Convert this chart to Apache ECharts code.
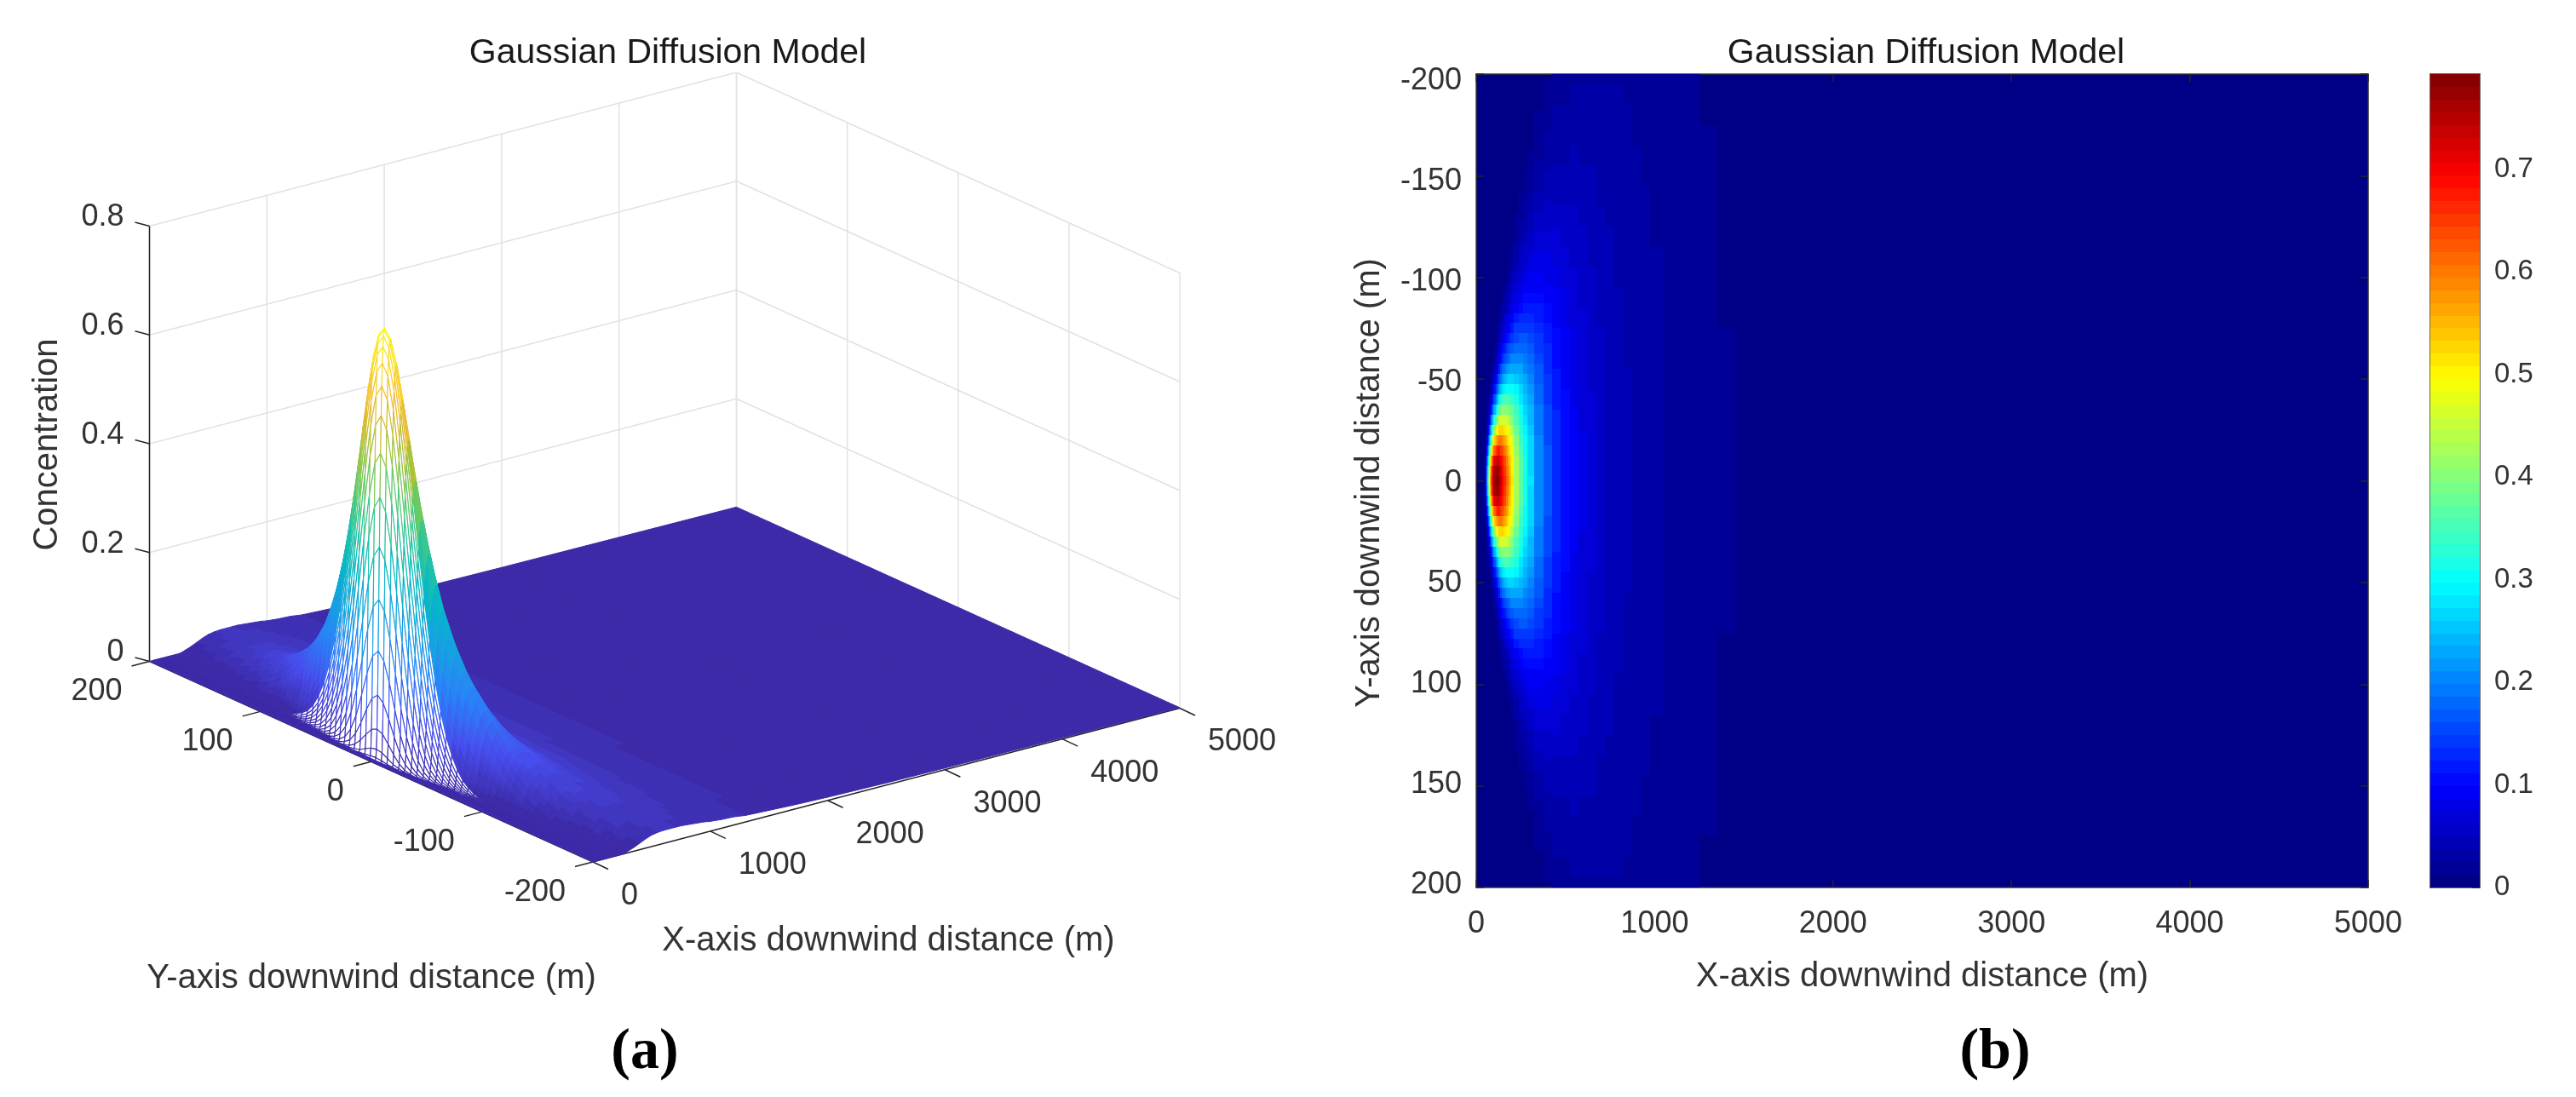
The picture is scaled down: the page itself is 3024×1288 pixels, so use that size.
<!DOCTYPE html>
<html><head><meta charset="utf-8">
<style>html,body{margin:0;padding:0;background:#fff}#c{width:3024px;height:1288px}</style>
<script src="https://cdn.jsdelivr.net/npm/echarts@6/dist/echarts.min.js"></script>
</head><body><div id="c"></div>
<script>
// Values, as concentration x 1000.
// Each profile lists one half of the plume (|y| = 0, step, 2*step ...); the picture is symmetric about y = 0.
const profileX = [0,35,40,45,50,55,60,65,70,75,80,85,90,95,100,105,110,115,120,130,140,150,160,170,180,190,200,225,250,275,300,350,400,450,500,550,600,650,700,750,800,850,900,950,1000,1100,1200,1300,1400,1500,1700,2000,2500,3000,4000,5000];
const fineStep = 5, coarseStep = 10, coarseFromX = 450;
const profiles = [
[0],[0],
[5,4,2,1],
[20,18,12,6,3,1],
[57,52,38,23,11,4,1],
[119,109,84,55,30,14,6,2],
[200,186,150,105,63,33,15,6,2,1],
[294,277,230,170,111,64,33,15,6,2,1],
[390,370,316,243,168,104,58,29,13,6,2,1],
[481,459,400,318,231,152,92,51,26,12,5,2,1],
[562,540,478,391,295,205,132,78,43,21,10,4,2,1],
[631,609,547,457,356,258,174,109,64,35,18,8,4,2,1],
[685,664,603,514,411,309,217,144,89,52,28,14,7,3,1],
[727,707,648,562,460,356,260,179,116,72,42,23,12,6,3,1],
[757,738,683,600,500,397,299,213,145,93,57,33,18,10,5,2,1],
[776,758,707,629,533,432,334,246,173,116,75,46,27,15,8,4,2,1],
[787,770,722,649,560,462,365,276,201,140,93,59,36,21,12,6,3,2,1],
[790,775,731,663,578,485,391,303,226,163,112,74,47,29,17,10,5,3,1],
[787,773,733,670,591,503,412,327,250,184,131,90,60,38,23,14,8,4,2,1],
[769,757,724,670,602,524,444,364,289,223,167,121,85,58,38,25,15,9,5,3,2,1],
[738,728,700,655,598,531,459,387,317,254,198,150,111,80,56,38,25,16,10,6,4,2,1],
[701,693,669,632,583,526,463,400,336,277,222,175,135,101,74,53,37,25,17,11,7,4,3,2,1],
[662,655,635,604,563,514,460,404,347,292,241,195,155,120,92,68,50,36,25,17,12,8,5,3,2,1],
[622,616,600,574,539,497,451,401,351,302,254,211,172,137,108,83,63,47,34,25,17,12,8,6,4,2,1],
[583,578,565,543,513,478,438,395,350,306,263,222,185,152,122,97,76,58,44,33,24,17,12,9,6,4,3,2,1],
[545,542,530,512,486,456,421,384,345,305,267,230,195,163,134,109,87,69,54,41,31,23,17,12,9,6,4,3,2,1],
[510,507,497,481,460,434,404,372,337,302,267,234,201,171,144,119,97,79,63,50,39,30,22,17,12,9,6,5,3,2,2,1],
[432,430,423,413,398,380,359,337,312,286,259,233,207,182,159,137,117,99,83,69,56,46,37,29,23,18,14,10,8,6,4,3,2,2,1],
[368,366,362,355,344,332,317,301,283,263,243,223,203,183,164,145,128,111,96,83,70,59,50,41,34,28,23,18,14,11,9,7,5,4,3,2,2,1],
[315,314,311,306,298,289,278,266,253,239,224,208,192,177,161,146,131,117,104,92,80,70,60,52,44,37,31,26,22,18,15,12,10,8,6,5,4,3,2,2,1],
[273,272,270,266,261,254,246,237,227,216,205,193,180,168,156,143,131,119,108,97,87,77,68,60,52,45,39,34,29,24,21,17,14,12,10,8,7,5,4,3,3],
[208,208,206,204,201,197,193,188,182,175,168,161,153,146,137,129,121,113,105,97,89,82,75,68,62,56,50,45,40,35,31,27,24,21,18,16,14,12,10,8,7],
[163,163,162,161,159,157,154,151,147,143,139,134,129,124,119,113,108,102,97,91,86,80,75,70,65,60,55,50,46,42,38,35,31,28,25,23,20,18,16,14,12],
[131,131,128,125,121,115,109,102,94,87,79,71,63,55,48,42,36,30,25,21,17],
[108,107,106,104,101,97,93,88,83,77,71,65,59,54,48,43,37,33,28,24,21],
[90,90,89,87,85,83,80,76,72,68,64,59,55,50,46,42,38,34,30,26,23],
[76,76,75,74,73,71,69,66,63,60,57,54,50,47,43,40,36,33,30,27,24],
[65,65,64,64,63,61,60,58,56,53,51,48,46,43,40,38,35,32,29,27,24],
[56,56,56,55,54,53,52,51,49,47,45,43,41,39,37,35,33,30,28,26,24],
[49,49,49,48,48,47,46,45,44,42,41,39,38,36,34,32,31,29,27,25,24],
[44,44,44,43,43,42,41,41,40,39,37,36,35,33,32,31,29,28,26,25,23],
[39,39,39,38,38,38,37,36,36,35,34,33,32,31,29,28,27,26,25,23,22],
[35,34,34,34,34,33,33,32,32,31,30,30,29,28,27,26,25,24,23,22,21],
[31,31,31,31,30,30,30,29,29,28,28,27,26,25,25,24,23,22,21,20,20],
[28,28,28,28,28,27,27,27,26,26,25,25,24,23,23,22,21,20,19,19,18],
[23,23,23,23,23,23,22,22,22,21,21,20,20,19,19,18,18,17,17,16,16],
[20,20,19,19,19,19,19,19,18,18,18,17,17,17,16,16,16,15,15,15,15],
[16,16,16,16,16,15,15,15,15,15,14,14,14,14,13,13,13,13,12,12,12],
[14,14,14,14,13,13,13,13,12,12,12,12,12,12,12,12,12,12,11,11,11],
[12,12,12,12,12,12,12,12,12,12,12,12,12,11,11,11,11,11,11,11,10],
[10,10,10,10,10,10,10,10,9,9,9,9,9,9,9,9,9,8,8,8,8],
[7,7,7,7,7,7,7,7,7,7,7,7,6,6,6,6,6,6,6,6,6],
[5,5,5,5,5,4,4,4,4,4,4,4,4,4,4,4,4,4,4,4,4],
[3,3,3,3,3,3,3,3,3,3,3,3,3,3,3,3,3,3,3,3,3],
[2,2,2,2,2,2,2,2,2,2,2,2,2,2,2,2,2,2,2,2,2],
[1,1,1,1,1,1,1,1,1,1,1,1,1,1,1,1,1,1,1,1,1]
];
const xTicks = [0,1000,2000,3000,4000,5000];
const yTicks3d = [200,100,0,-100,-200];
const zTicks = [0,0.2,0.4,0.6,0.8];
const colorMax = 0.7925;
const titleText = 'Gaussian Diffusion Model';
const xName = 'X-axis downwind distance (m)';
const yName = 'Y-axis downwind distance (m)';
const zName = 'Concentration';

const FONT = '"Liberation Sans", Arial, sans-serif';
const stepOf = i => profileX[i] >= coarseFromX ? coarseStep : fineStep;
const valueAt = (i, y) => ((profiles[i][Math.round(Math.abs(y) / stepOf(i))]) || 0) / 1000;

// ---- colour maps
const clamp = v => Math.max(0, Math.min(1, v));
const rgb = (r, g, b) => `rgb(${Math.round(r*255)},${Math.round(g*255)},${Math.round(b*255)})`;
function jetLevel(i){ const t=(i+0.5)/64; return rgb(clamp(1.5-Math.abs(4*t-3)),clamp(1.5-Math.abs(4*t-2)),clamp(1.5-Math.abs(4*t-1))); }
const levelOf = v => Math.min(63, Math.floor(v / colorMax * 64));
const parulaStops = [[.232,.152,.635],[.281,.30,.93],[.17,.50,.98],[.09,.63,.89],[.02,.72,.78],[.15,.77,.64],[.38,.80,.42],[.68,.76,.20],[.95,.73,.22],[.99,.85,.15],[.98,.98,.08]];
function parula(v){ const t=(levelOf(v)+0.5)/64*10, a=Math.min(9,Math.floor(t)), f=t-a, A=parulaStops[a], B=parulaStops[a+1];
  return rgb(A[0]+(B[0]-A[0])*f,A[1]+(B[1]-A[1])*f,A[2]+(B[2]-A[2])*f); }

// ---- oblique view of panel (a)
const view = {o:[696,1012], vx:[689,-180.5], vy:[-520.5,-235.5], vz:[0,-511]};
function project(x,y,z){ const a=x/5000,b=(y+200)/400,c=z/0.8;
  return [view.o[0]+a*view.vx[0]+b*view.vy[0]+c*view.vz[0], view.o[1]+a*view.vx[1]+b*view.vy[1]+c*view.vz[1]]; }

// ---- surface facets, far to near
const meshQuads = [];
for (let i=profileX.length-2;i>=0;i--){
  const xa=profileX[i], xb=profileX[i+1], st=Math.max(stepOf(i),stepOf(i+1));
  for (let y=200;y>-200;y-=st){
    const yb=y-st, zs=[valueAt(i,y),valueAt(i+1,y),valueAt(i+1,yb),valueAt(i,yb)];
    const mean=(zs[0]+zs[1]+zs[2]+zs[3])/4, top=Math.max(...zs), col=parula(mean);
    const open = xb<=120 && top>=0.002;
    meshQuads.push({pts:[[xa,y,zs[0]],[xb,y,zs[1]],[xb,yb,zs[2]],[xa,yb,zs[3]]],fill:open?'#fff':col,stroke:col,lw:open?1.1:1});
  }
}
// ---- heat-map cells
const cells = [];
profileX.forEach((x,i)=>{
  const x0=i?(profileX[i-1]+x)/2:0, x1=i<profileX.length-1?(x+profileX[i+1])/2:5000, st=stepOf(i);
  profiles[i].forEach((p,n)=>{
    const v=p/1000; if(levelOf(v)<1) return;
    const y=n*st, lo=Math.min(200,y+st/2), hi=Math.max(0,y-st/2);
    cells.push([x0,x1,hi,lo,v]);
    cells.push([x0,x1,-lo,-hi,v]);
  });
});
const barLevels = Array.from({length:64},(_,i)=>i);

// ---- series renderers
function renderAxes3d(p,api){
  const P=(x,y,z)=>api.coord(project(x,y,z));
  const line=(a,b,c,w)=>({type:'line',shape:{x1:a[0],y1:a[1],x2:b[0],y2:b[1]},style:{stroke:c,lineWidth:w}});
  const text=(s,pt,align,size,extra)=>Object.assign({type:'text',x:pt[0],y:pt[1],style:{text:s,fill:'#333',align:align,verticalAlign:'middle',font:`${size}px ${FONT}`}},extra||{});
  const kids=[], grid='#e2e2e2', dark='#262626';
  xTicks.forEach(x=>kids.push(line(P(x,200,0),P(x,200,0.8),grid,1.5)));
  yTicks3d.forEach(y=>kids.push(line(P(5000,y,0),P(5000,y,0.8),grid,1.5)));
  zTicks.forEach(z=>{ if(z>0){ kids.push(line(P(0,200,z),P(5000,200,z),grid,1.5)); kids.push(line(P(5000,200,z),P(5000,-200,z),grid,1.5)); } });
  kids.push(line(P(0,200,0),P(0,200,0.8),dark,1.5));
  kids.push(line(P(0,200,0),P(0,-200,0),dark,1.5));
  kids.push(line(P(0,-200,0),P(5000,-200,0),dark,1.5));
  zTicks.forEach(z=>{ const a=P(0,200,z); kids.push(line(a,[a[0]-17,a[1]-4.5],dark,1.5));
    kids.push(text(String(z),[a[0]-30,a[1]-10],'right',36)); });
  yTicks3d.forEach(y=>{ const a=P(0,y,0); kids.push(line(a,[a[0]-21,a[1]+5.5],dark,1.5));
    kids.push(text(String(y),[a[0]-32,a[1]+36],'right',36)); });
  xTicks.forEach(x=>{ const a=P(x,-200,0); kids.push(line(a,[a[0]+18,a[1]+8.5],dark,1.5));
    kids.push(text(String(x),[a[0]+33,a[1]+40],'left',36)); });
  kids.push(text(xName,api.coord([1043,1105]),'center',40));
  kids.push(text(yName,api.coord([436,1149]),'center',40));
  kids.push(text(zName,api.coord([56,522]),'center',40,{rotation:Math.PI/2}));
  return {type:'group',children:kids,silent:true};
}
function renderMesh(p,api){
  const q=meshQuads[p.dataIndex];
  return {type:'polygon',shape:{points:q.pts.map(c=>api.coord(project(c[0],c[1],c[2])))},style:{fill:q.fill,stroke:q.stroke,lineWidth:q.lw,lineJoin:'bevel'},silent:true};
}
function renderCell(p,api){
  const a=api.coord([api.value(0),api.value(2)]), b=api.coord([api.value(1),api.value(3)]);
  const x=Math.round(a[0]), y=Math.round(a[1]);
  return {type:'rect',shape:{x:x,y:y,width:Math.round(b[0])-x,height:Math.round(b[1])-y},style:{fill:jetLevel(levelOf(api.value(4)))},silent:true};
}
function renderBar(p,api){
  const l=api.value(0), a=api.coord([0,l/64*colorMax]), b=api.coord([1,(l+1)/64*colorMax]);
  const y=Math.round(b[1]);
  return {type:'rect',shape:{x:a[0],y:y,width:b[0]-a[0],height:Math.round(a[1])-y},style:{fill:jetLevel(l)},silent:true};
}

const tick={inside:true,length:9,lineStyle:{color:'#262626',width:1.5}};
const frame={show:true,onZero:false,lineStyle:{color:'#333',width:1.5}};
const lab={fontFamily:FONT,fontSize:36,color:'#333'};
const hidden={show:false};
const plain=v=>String(v);

const option={
  animation:false,backgroundColor:'#fff',
  title:[
    {text:titleText,left:779,top:37,textAlign:'center',textStyle:{fontFamily:FONT,fontSize:41,fontWeight:'normal',color:'#1a1a1a'}},
    {text:titleText,left:2256,top:37,textAlign:'center',textStyle:{fontFamily:FONT,fontSize:41,fontWeight:'normal',color:'#1a1a1a'}},
    {text:'{p|(}{b|a}{p|)}',left:752,top:1197,textAlign:'center',textStyle:{rich:{p:{fontFamily:'"Liberation Serif",serif',fontSize:68,color:'#000'},b:{fontFamily:'"Liberation Serif",serif',fontSize:68,fontWeight:'bold',color:'#000'}}}},
    {text:'{p|(}{b|b}{p|)}',left:2337,top:1197,textAlign:'center',textStyle:{rich:{p:{fontFamily:'"Liberation Serif",serif',fontSize:68,color:'#000'},b:{fontFamily:'"Liberation Serif",serif',fontSize:68,fontWeight:'bold',color:'#000'}}}}
  ],
  grid:[
    {left:0,top:0,width:3024,height:1288},
    {left:1733,top:87,width:1047,height:955,show:true,backgroundColor:jetLevel(0),borderWidth:0},
    {left:1733,top:95,width:1047,height:944},
    {left:2853,top:87,width:58,height:955}
  ],
  xAxis:[
    {gridIndex:0,type:'value',min:0,max:3024,show:false},
    {gridIndex:1,type:'value',min:0,max:5000,interval:1000,position:'bottom',axisLine:frame,axisTick:tick,splitLine:hidden,
      axisLabel:Object.assign({margin:25,formatter:plain},lab),name:xName,nameLocation:'middle',nameGap:85,nameTextStyle:{fontFamily:FONT,fontSize:40,color:'#333'}},
    {gridIndex:1,type:'value',min:0,max:5000,interval:1000,position:'top',axisLine:frame,axisTick:tick,splitLine:hidden,axisLabel:hidden},
    {gridIndex:2,type:'value',min:0,max:5000,show:false},
    {gridIndex:3,type:'value',min:0,max:1,position:'bottom',axisLine:frame,axisTick:hidden,splitLine:hidden,axisLabel:hidden},
    {gridIndex:3,type:'value',min:0,max:1,position:'top',axisLine:frame,axisTick:hidden,splitLine:hidden,axisLabel:hidden}
  ],
  yAxis:[
    {gridIndex:0,type:'value',min:0,max:1288,inverse:true,show:false},
    {gridIndex:1,type:'value',min:-200,max:200,interval:50,inverse:true,position:'left',axisLine:frame,axisTick:tick,splitLine:hidden,axisLabel:hidden},
    {gridIndex:1,type:'value',min:-200,max:200,interval:50,inverse:true,position:'right',axisLine:frame,axisTick:tick,splitLine:hidden,axisLabel:hidden},
    {gridIndex:2,type:'value',min:-200,max:200,interval:50,inverse:true,position:'left',axisLine:hidden,axisTick:hidden,splitLine:hidden,
      axisLabel:Object.assign({margin:17},lab),name:yName,nameLocation:'middle',nameGap:105,nameRotate:90,nameTextStyle:{fontFamily:FONT,fontSize:40,color:'#333'}},
    {gridIndex:3,type:'value',min:0,max:colorMax,interval:0.1,position:'right',axisLine:frame,axisTick:tick,splitLine:hidden,
      axisLabel:{margin:17,fontFamily:FONT,fontSize:33,color:'#333',showMaxLabel:false,padding:[8,0,0,0],formatter:v=>v===0?'0':v.toFixed(1)}},
    {gridIndex:3,type:'value',min:0,max:colorMax,interval:0.1,position:'left',axisLine:frame,axisTick:hidden,splitLine:hidden,axisLabel:hidden}
  ],
  series:[
    {type:'custom',name:'axes3d',xAxisIndex:0,yAxisIndex:0,z:1,clip:false,data:[[0,0]],renderItem:renderAxes3d,silent:true},
    {type:'custom',name:'surface',xAxisIndex:0,yAxisIndex:0,z:2,clip:false,progressive:0,data:meshQuads.map((q,i)=>[i,0]),renderItem:renderMesh,silent:true},
    {type:'custom',name:'heat',xAxisIndex:1,yAxisIndex:1,z:2,clip:true,progressive:0,data:cells,renderItem:renderCell,silent:true},
    {type:'custom',name:'colorbar',xAxisIndex:4,yAxisIndex:4,z:2,progressive:0,data:barLevels.map(l=>[l]),encode:{y:0},renderItem:renderBar,silent:true}
  ]
};
const chart=echarts.init(document.getElementById('c'),null,{renderer:'canvas',width:3024,height:1288});
chart.setOption(option);
</script></body></html>
